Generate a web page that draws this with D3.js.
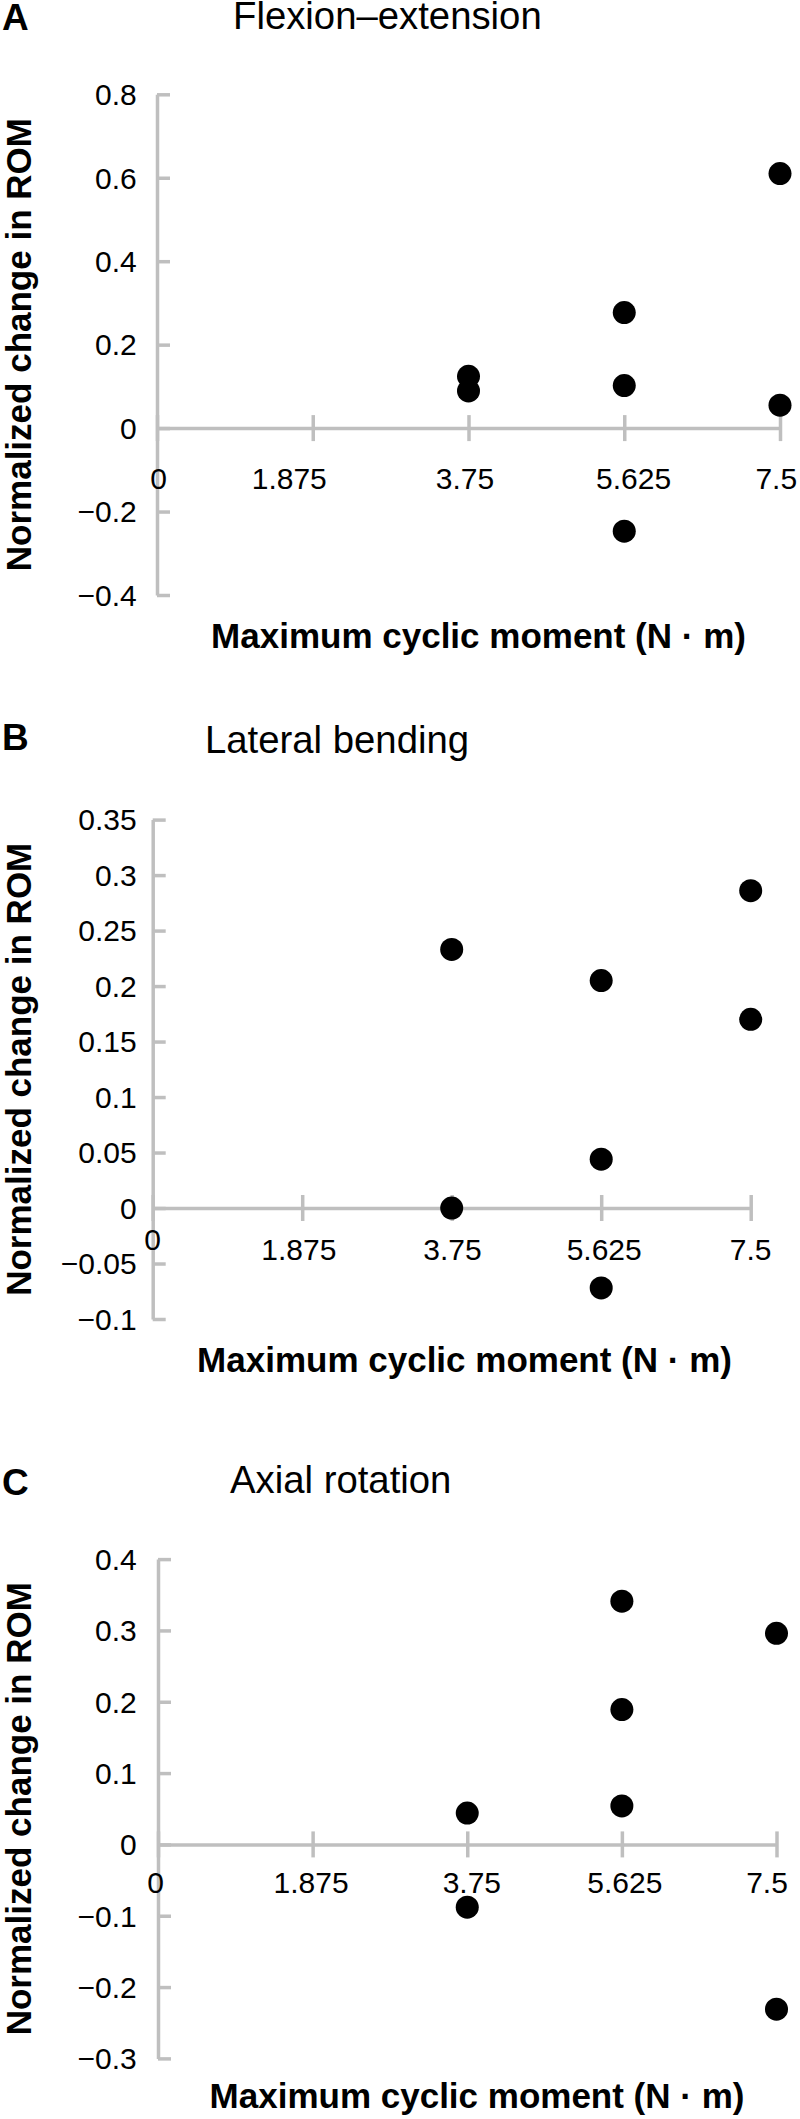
<!DOCTYPE html>
<html>
<head>
<meta charset="utf-8">
<script src="https://cdn.jsdelivr.net/npm/d3@7"></script>
<style>
  html, body { margin: 0; padding: 0; background: #fff; }
  svg { display: block; }
  text { font-family: "Liberation Sans", Arial, sans-serif; fill: #000; }
</style>
</head>
<body>
<svg id="chart" width="800" height="2119"></svg>
<script>
// ---------------- DATA ----------------
const panelLetters = ["A", "B", "C"];
const panelTitles = ["Flexion\u2013extension", "Lateral bending", "Axial rotation"];
const xAxisTitle = "Maximum cyclic moment (N \u00B7 m)";
const yAxisTitle = "Normalized change in ROM";

const xTicks = [0, 1.875, 3.75, 5.625, 7.5];
const xTickLabels = ["0", "1.875", "3.75", "5.625", "7.5"];

// Flexion–extension
const flexX = [3.75, 3.75, 5.625, 5.625, 5.625, 7.5, 7.5];
const flexY = [0.124, 0.089, 0.277, 0.102, -0.247, 0.610, 0.055];
const flexYTicks = [-0.4, -0.2, 0, 0.2, 0.4, 0.6, 0.8];
const flexYTickLabels = ["\u22120.4", "\u22120.2", "0", "0.2", "0.4", "0.6", "0.8"];

// Lateral bending
const latX = [3.75, 3.75, 5.625, 5.625, 5.625, 7.5, 7.5];
const latY = [0.233, 0.0, 0.205, 0.044, -0.072, 0.286, 0.170];
const latYTicks = [-0.1, -0.05, 0, 0.05, 0.1, 0.15, 0.2, 0.25, 0.3, 0.35];
const latYTickLabels = ["\u22120.1", "\u22120.05", "0", "0.05", "0.1", "0.15", "0.2", "0.25", "0.3", "0.35"];

// Axial rotation
const axX = [3.75, 3.75, 5.625, 5.625, 5.625, 7.5, 7.5];
const axY = [0.044, -0.088, 0.341, 0.189, 0.054, 0.296, -0.231];
const axYTicks = [-0.3, -0.2, -0.1, 0, 0.1, 0.2, 0.3, 0.4];
const axYTickLabels = ["\u22120.3", "\u22120.2", "\u22120.1", "0", "0.1", "0.2", "0.3", "0.4"];

// ---------------- LAYOUT ----------------
const layout = [
  { left: 157, right: 780, top: 94.3, bottom: 595, letterY: 29.5, titleX: 233, titleY: 29,
    xLabelDy: 60.5, zeroLabelDy: 60.5, xNudge: [1.5, -23.5, -3.6, 9.3, -3.7], xTitleX: 478.5, xTitleY: 648 },
  { left: 152.7, right: 750.7, top: 819.6, bottom: 1319, letterY: 750, titleX: 205, titleY: 753,
    xLabelDy: 52, zeroLabelDy: 42, xNudge: [0, -3.4, 0.8, 3, 0], xTitleX: 464.5, xTitleY: 1371.7 },
  { left: 158, right: 776.5, top: 1559.1, bottom: 2058.4, letterY: 1495, titleX: 230, titleY: 1493.3,
    xLabelDy: 49, zeroLabelDy: 49, xNudge: [-2.5, -1.5, 4.6, 3, -9.5], xTitleX: 477, xTitleY: 2108 }
];

const panels = [
  { xs: flexX, ys: flexY, yTicks: flexYTicks, yLabels: flexYTickLabels },
  { xs: latX, ys: latY, yTicks: latYTicks, yLabels: latYTickLabels },
  { xs: axX, ys: axY, yTicks: axYTicks, yLabels: axYTickLabels }
];

const axisColor = "#bfbfbf";
const axisWidth = 3.5;
const svg = d3.select("#chart");
svg.append("rect").attr("width", 800).attr("height", 2119).attr("fill", "#fff");

panels.forEach((p, i) => {
  const L = layout[i];
  const x = d3.scaleLinear().domain([0, 7.5]).range([L.left, L.right]);
  const y = d3.scaleLinear()
    .domain([d3.min(p.yTicks), d3.max(p.yTicks)])
    .range([L.bottom, L.top]);
  const g = svg.append("g");

  // panel letter
  g.append("text").attr("x", 2).attr("y", L.letterY)
    .attr("font-size", 37).attr("font-weight", "bold").text(panelLetters[i]);
  // title
  g.append("text").attr("x", L.titleX).attr("y", L.titleY)
    .attr("font-size", 38.3).text(panelTitles[i]);

  // y axis (ticks pointing right)
  const yAxis = d3.axisRight(y).tickValues(p.yTicks).tickSize(13).tickSizeOuter(0).tickFormat("");
  const ya = g.append("g").attr("transform", `translate(${L.left},0)`).call(yAxis);
  ya.selectAll("path, line").attr("stroke", axisColor).attr("stroke-width", axisWidth);

  // y tick labels
  g.selectAll(".ylab").data(p.yTicks).enter().append("text")
    .attr("x", 136.7).attr("y", d => y(d)).attr("dy", "0.36em")
    .attr("text-anchor", "end").attr("font-size", 30)
    .text((d, k) => p.yLabels[k]);

  // x axis at y=0 with crossing ticks
  const y0 = y(0);
  const xAxis = d3.axisBottom(x).tickValues(xTicks).tickSize(13).tickSizeOuter(0).tickFormat("");
  const xa = g.append("g").attr("transform", `translate(0,${y0})`).call(xAxis);
  xa.selectAll(".tick line").attr("y1", -13);
  xa.selectAll("path, line").attr("stroke", axisColor).attr("stroke-width", axisWidth);

  // x tick labels
  g.selectAll(".xlab").data(xTicks).enter().append("text")
    .attr("x", (d, k) => x(d) + L.xNudge[k])
    .attr("y", (d, k) => y0 + (k === 0 ? L.zeroLabelDy : L.xLabelDy))
    .attr("text-anchor", "middle").attr("font-size", 30)
    .text((d, k) => xTickLabels[k]);

  // axis titles
  g.append("text").attr("x", L.xTitleX).attr("y", L.xTitleY)
    .attr("text-anchor", "middle").attr("font-size", 35).attr("font-weight", "bold")
    .text(xAxisTitle);
  const cy = (L.top + L.bottom) / 2;
  g.append("text")
    .attr("transform", `translate(31,${cy}) rotate(-90)`)
    .attr("text-anchor", "middle").attr("font-size", 35).attr("font-weight", "bold")
    .text(yAxisTitle);

  // points
  g.selectAll("circle").data(p.xs.map((v, k) => [v, p.ys[k]])).enter().append("circle")
    .attr("cx", d => x(d[0])).attr("cy", d => y(d[1])).attr("r", 11.5).attr("fill", "#000");
});
</script>
</body>
</html>
